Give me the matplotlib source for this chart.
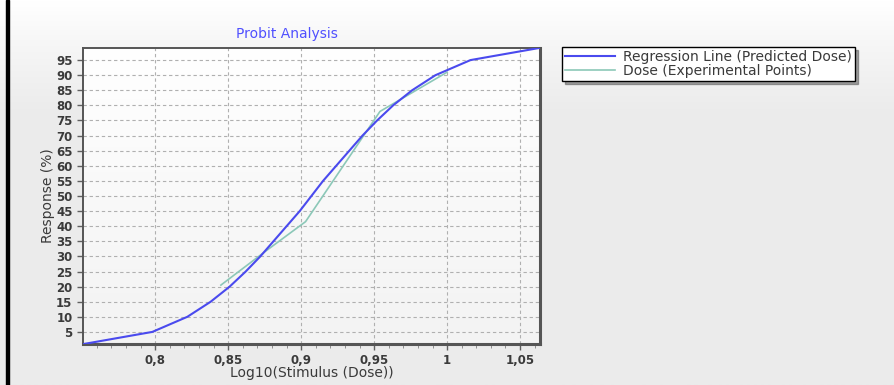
import numpy as np
import matplotlib
matplotlib.use('Agg')
import matplotlib.pyplot as plt
from matplotlib.colors import LinearSegmentedColormap
from matplotlib.ticker import MultipleLocator, FixedLocator

# regression line (predicted dose): log10 dose vs response %
reg_x = [0.751, 0.798, 0.822, 0.838, 0.851, 0.862, 0.872, 0.881, 0.890, 0.899, 0.907,
         0.915, 0.924, 0.933, 0.942, 0.952, 0.963, 0.976, 0.992, 1.016, 1.063]
reg_y = [1, 5, 10, 15, 20, 25, 30, 35, 40, 45, 50,
         55, 60, 65, 70, 75, 80, 85, 90, 95, 99]

# experimental points
exp_x = [0.845, 0.875, 0.903, 0.954, 1.0]
exp_y = [20.5, 31.5, 41.5, 78.0, 91.0]

x_ticks = [0.8, 0.85, 0.9, 0.95, 1.0, 1.05]
x_labels = ['0,8', '0,85', '0,9', '0,95', '1', '1,05']
y_ticks = list(range(5, 100, 5))

plt.rcParams['font.family'] = ['DejaVu Sans']
txt = '#3a3a3a'

fig = plt.figure(figsize=(8.94, 3.85), dpi=100)
fig.patch.set_facecolor('#ebebeb')

# figure background gradient (white at top fading to light gray)
bg = fig.add_axes([0, 0, 1, 1], zorder=-10)
grad = np.linspace(1, 0, 200).reshape(-1, 1)
cm_bg = LinearSegmentedColormap.from_list(
    'g', [(0, '#ebebeb'), (0.72, '#ececec'), (0.9, '#f7f7f7'), (1, '#ffffff')])
bg.imshow(grad, aspect='auto', cmap=cm_bg, extent=[0, 1, 0, 1])
bg.axis('off')
# black bar on the left
bg.add_patch(plt.Rectangle((0.0065, 0), 0.0035, 1, color='black', transform=bg.transAxes))

ax = fig.add_axes([0.0928, 0.1065, 0.511, 0.7688])
ax.set_facecolor('white')
agrad = np.linspace(0, 1, 100).reshape(-1, 1)
ax.imshow(agrad, aspect='auto', cmap=LinearSegmentedColormap.from_list('p', ['#ffffff', '#f3f3f3']),
          extent=[0, 1, 0, 1], transform=ax.transAxes, zorder=0)

l2, = ax.plot(exp_x, exp_y, color='#8cc8b8', lw=1.2, zorder=3)
l1, = ax.plot(reg_x, reg_y, color='#4a4aee', lw=1.5, zorder=4)

ax.set_xlim(0.7505, 1.0635)
ax.set_ylim(1, 99)
ax.xaxis.set_major_locator(FixedLocator(x_ticks))
ax.set_xticklabels(x_labels)
ax.xaxis.set_minor_locator(MultipleLocator(0.01))
ax.set_yticks(y_ticks)

ax.grid(True, which='major', color='#b0b0b0', linestyle=(0, (3, 2.5)), lw=0.8)
ax.tick_params(axis='both', which='major', labelsize=8.5, labelcolor=txt, color='#606060',
               length=4, width=1)
ax.tick_params(axis='x', which='minor', length=3, color='#808080')
for lab in ax.get_xticklabels() + ax.get_yticklabels():
    lab.set_fontweight('bold')
for s in ax.spines.values():
    s.set_color('#555555')
    s.set_linewidth(1.4)
ax.spines['right'].set_linewidth(2.2)
ax.spines['bottom'].set_linewidth(2.2)

ax.set_title('Probit Analysis', color='#5050ff', fontsize=10, pad=7, x=0.447)
ax.set_ylabel('Response (%)', color=txt, fontsize=10, labelpad=1)
ax.set_xlabel('Log10(Stimulus (Dose))', color=txt, fontsize=10, labelpad=-1)

leg = fig.legend(handles=[l1, l2],
                 labels=['Regression Line (Predicted Dose)', 'Dose (Experimental Points)'],
                 loc='upper left', bbox_to_anchor=(0.629, 0.877),
                 fontsize=10, frameon=True, fancybox=False, shadow=True,
                 handlelength=3.6, handletextpad=0.6, borderpad=0.2, labelspacing=0.0,
                 borderaxespad=0)
leg.get_frame().set_edgecolor('black')
leg.get_frame().set_linewidth(1.0)
for t in leg.get_texts():
    t.set_color(txt)

fig.savefig('out.png', dpi=100, facecolor=fig.get_facecolor())
